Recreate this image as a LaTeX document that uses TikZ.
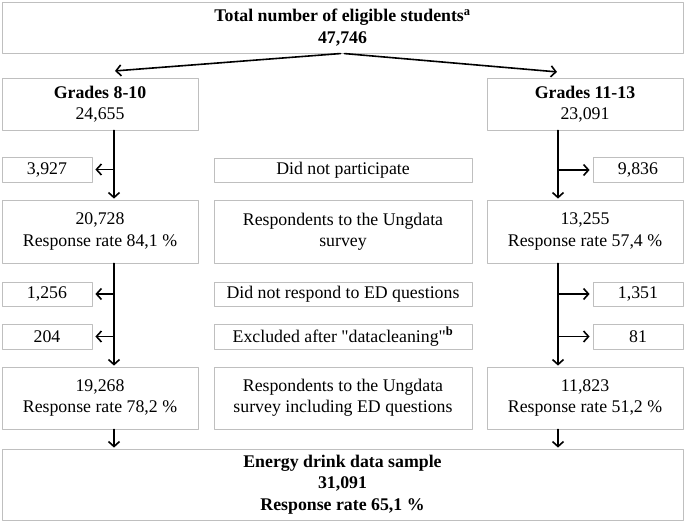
\documentclass[tikz,border=0pt]{standalone}
\usepackage{fontspec}
\setmainfont{Liberation Serif}[Ligatures=TeXOff]
\usetikzlibrary{arrows.meta}

\tikzset{
  cell/.style={draw=black!25, line width=0.8pt, align=center, inner sep=0pt,
    font=\fontsize{17.8}{21.3}\selectfont},
  colbox/.style={cell, minimum width=196pt},
  sidebox/.style={cell, minimum width=90pt, minimum height=25pt},
  midbox/.style={cell, minimum width=258pt},
  fullbox/.style={cell, minimum width=681pt},
  flow/.style={->, line width=1.6pt, shorten >=1pt},
}

\begin{document}
\begin{tikzpicture}[line cap=round,line join=round,>={Straight Barb[length=5pt,width=11pt]},x=1pt,y=-1pt]
	\useasboundingbox (0,0) rectangle (685,521);
	%Total
	\node[fullbox, minimum height=51pt] (tot) at (342.5,27.5) {\textbf{Total number of eligible students\textsuperscript{a}}\\\textbf{47,746}};
	\coordinate (la) at (114,71);
	\coordinate (ra) at (558,72);
	%Grades
	\node[colbox, minimum height=52pt] (gl) at (100,104) {\textbf{Grades 8-10}\\24,655};
	\node[colbox, minimum height=52pt] (gr) at (585,104) {\textbf{Grades 11-13}\\23,091};
	%Ligne 1
	\node[sidebox] (nl1) at (47,169.5) {3,927};
	\node[midbox, minimum height=24pt] (m1) at (343,170) {Did not participate};
	\node[sidebox] (nr1) at (638,170) {9,836};
	%Ligne 2
	\node[colbox, minimum height=63pt] (rl2) at (100,231.5) {20,728\\Response rate 84,1 \%};
	\node[midbox, minimum height=63pt] (m2) at (343,231.5) {Respondents to the Ungdata\\survey};
	\node[colbox, minimum height=63pt] (rr2) at (585,231.5) {13,255\\Response rate 57,4 \%};
	%Ligne 3
	\node[sidebox, minimum height=24pt] (nl3) at (47,294) {1,256};
	\node[midbox, minimum height=24pt] (m3) at (343,294) {Did not respond to ED questions};
	\node[sidebox, minimum height=24pt] (nr3) at (638,294) {1,351};
	%Ligne 4
	\node[sidebox] (nl4) at (47,336.5) {204};
	\node[midbox, minimum height=25pt] (m4) at (343,336.5) {Excluded after "datacleaning"\textbf{\textsuperscript{b}}};
	\node[sidebox] (nr4) at (638,336.5) {81};
	%Ligne 5
	\node[colbox, minimum height=62pt] (rl5) at (100,398) {19,268\\Response rate 78,2 \%};
	\node[midbox, minimum height=62pt] (m5) at (343,398) {Respondents to the Ungdata\\survey including ED questions};
	\node[colbox, minimum height=62pt] (rr5) at (585,398) {11,823\\Response rate 51,2 \%};
	%Echantillon
	\node[fullbox, minimum height=71pt] (ed) at (342.5,484.5) {\textbf{Energy drink data sample}\\\textbf{31,091}\\\textbf{Response rate 65,1 \%}};
	%fleches
	\draw[flow, shorten <=2pt] (tot.south) -- (la);
	\draw[flow, shorten <=2pt] (tot.south) -- (ra);
	\draw[flow] (gl.south -| la) -- (rl2.north -| la);
	\draw[flow] (gr.south -| ra) -- (rr2.north -| ra);
	\draw[flow, shorten >=3pt] (nl1.east -| la) -- (nl1.east);
	\draw[flow, shorten >=3pt] (nr1.west -| ra) -- (nr1.west);
	\draw[flow] (rl2.south -| la) -- (rl5.north -| la);
	\draw[flow] (rr2.south -| ra) -- (rr5.north -| ra);
	\draw[flow, shorten >=3pt] (nl3.east -| la) -- (nl3.east);
	\draw[flow, shorten >=3pt] (nr3.west -| ra) -- (nr3.west);
	\draw[flow, shorten >=3pt] (nl4.east -| la) -- (nl4.east);
	\draw[flow, shorten >=3pt] (nr4.west -| ra) -- (nr4.west);
	\draw[flow] (rl5.south -| la) -- (ed.north -| la);
	\draw[flow] (rr5.south -| ra) -- (ed.north -| ra);
\end{tikzpicture}
\end{document}
